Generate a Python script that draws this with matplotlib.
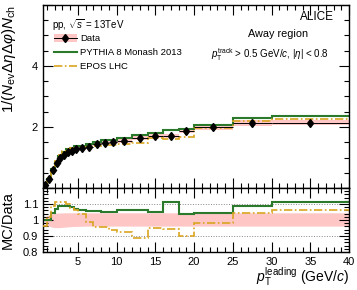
import numpy as np
import matplotlib.pyplot as plt
from matplotlib.patches import Patch
from matplotlib.lines import Line2D
from matplotlib.legend_handler import HandlerTuple
from matplotlib.ticker import MultipleLocator, FixedLocator

plt.rcParams['font.family'] = ['Liberation Sans', 'DejaVu Sans']
plt.rcParams['mathtext.fontset'] = 'custom'
plt.rcParams['mathtext.rm'] = 'Liberation Sans'
plt.rcParams['mathtext.it'] = 'Liberation Sans:italic'
plt.rcParams['mathtext.bf'] = 'Liberation Sans:bold'

# leading pT bins (GeV/c)
edges = np.array([0.5, 1, 1.5, 2, 2.5, 3, 3.5, 4, 4.5, 5, 6, 7, 8, 9, 10,
                  12, 14, 16, 18, 20, 25, 30, 40])
data = np.array([0.10, 0.30, 0.59, 0.81, 0.97, 1.08, 1.17, 1.22, 1.27, 1.30, 1.35,
                 1.43, 1.49, 1.51, 1.55, 1.64, 1.71, 1.70, 1.86, 1.99, 2.12, 2.14])
stat = np.array([0.01, 0.01, 0.01, 0.01, 0.01, 0.01, 0.01, 0.01, 0.01, 0.01, 0.01,
                 0.01, 0.02, 0.02, 0.02, 0.02, 0.03, 0.03, 0.03, 0.03, 0.04, 0.05])
# relative systematic band (upper / lower edge)
sys_hi = np.array([1.020, 1.032, 1.040, 1.043, 1.044, 1.045, 1.045, 1.045, 1.045, 1.045, 1.045,
                   1.045, 1.045, 1.045, 1.045, 1.045, 1.045, 1.045, 1.045, 1.045, 1.045, 1.045])
sys_lo = np.array([0.975, 0.962, 0.954, 0.952, 0.953, 0.955, 0.957, 0.959, 0.960, 0.961, 0.962,
                   0.962, 0.962, 0.962, 0.962, 0.962, 0.962, 0.962, 0.962, 0.962, 0.962, 0.962])
pythia = np.array([0.100, 0.300, 0.614, 0.867, 1.052, 1.177, 1.273, 1.318, 1.361, 1.385, 1.428,
                   1.512, 1.569, 1.590, 1.648, 1.743, 1.794, 1.887, 1.931, 2.078, 2.311, 2.375])
epos = np.array([0.096, 0.306, 0.643, 0.899, 1.082, 1.199, 1.287, 1.312, 1.353, 1.352, 1.337,
                 1.366, 1.423, 1.419, 1.435, 1.460, 1.626, 1.600, 1.672, 1.956, 2.209, 2.271])

centers = 0.5 * (edges[1:] + edges[:-1])
widths = np.diff(edges)

pink = '#ffc6c6'
green = '#2b7a2b'
gold = '#d9a520'
dashdot = (0, (5, 1.5, 1, 1.5))

fig = plt.figure(figsize=(3.57, 2.90), dpi=100)
ax1 = fig.add_axes([0.1204, 0.3517, 0.8572, 0.6311])
ax2 = fig.add_axes([0.1204, 0.131, 0.8572, 0.2207])

# upper panel
ax1.bar(centers, data * (sys_hi - sys_lo), bottom=data * sys_lo, width=widths,
        color=pink, lw=0, zorder=1)
ax1.stairs(pythia, edges, color=green, lw=1.5, baseline=None, zorder=2)
ax1.stairs(epos, edges, color=gold, lw=1.2, ls=dashdot, baseline=None, zorder=3)
ax1.errorbar(centers, data, xerr=widths / 2, yerr=stat, fmt='d', color='k',
             ms=4.5, lw=0.7, capsize=0, zorder=4)

ax1.set_xlim(0.5, 40)
ax1.set_ylim(0, 6)
ax1.yaxis.set_major_locator(FixedLocator([0, 2, 4, 6]))
ax1.set_yticklabels(['', '2', '4', ''])
ax1.yaxis.set_minor_locator(MultipleLocator(0.5))
ax1.set_ylabel(r'$1/(N_{\rm ev}\Delta\eta\Delta\varphi)N_{\rm ch}$', fontsize=11, loc='top')
ax1.yaxis.set_label_coords(-0.083, 1.0)
ax1.tick_params(labelbottom=False)

ax1.text(0.951, 0.936, 'ALICE', transform=ax1.transAxes, ha='right', va='center', fontsize=8.5)
ax1.text(0.767, 0.840, 'Away region', transform=ax1.transAxes, ha='center', va='center', fontsize=7.8)
ax1.text(0.741, 0.727, r'$p_{\rm T}^{\rm track}$ > 0.5 GeV/$c$, $|\eta|$ < 0.8',
         transform=ax1.transAxes, ha='center', va='center', fontsize=7)
ax1.text(0.0294, 0.89, r'pp, $\sqrt{s}$ = 13TeV', transform=ax1.transAxes,
         ha='left', va='center', fontsize=7)

h_data = (Patch(facecolor=pink, lw=0),
          Line2D([], [], color='k', marker='d', ms=4.5, lw=0.7))
h_py = Line2D([], [], color=green, lw=1.5)
h_ep = Line2D([], [], color=gold, lw=1.2, ls=dashdot)
ax1.legend([h_data, h_py, h_ep], ['Data', 'PYTHIA 8 Monash 2013', 'EPOS LHC'],
           handler_map={tuple: HandlerTuple(ndivide=1)},
           loc='upper left', bbox_to_anchor=(0.036, 0.84), frameon=False,
           fontsize=6.8, handlelength=2.4, handleheight=0.9, handletextpad=0.4,
           labelspacing=0.5, borderpad=0, borderaxespad=0)

# ratio panel
ax2.fill_between(np.r_[centers, edges[-1]], np.r_[sys_lo, sys_lo[-1]],
                 np.r_[sys_hi, sys_hi[-1]], color=pink, lw=0, zorder=1)
for lvl in [0.9, 1.1]:
    ax2.axhline(lvl, color='#888888', ls=':', lw=0.7, zorder=0)
ax2.stairs(pythia / data, edges, color=green, lw=1.5, baseline=None, zorder=2)
ax2.stairs(epos / data, edges, color=gold, lw=1.2, ls=dashdot, baseline=None, zorder=3)

ax2.set_xlim(0.5, 40)
ax2.set_ylim(0.8, 1.2)
ax2.yaxis.set_major_locator(FixedLocator([0.8, 0.9, 1.0, 1.1, 1.2]))
ax2.set_yticklabels(['0.8', '0.9', '1', '1.1', ''])
ax2.yaxis.set_minor_locator(MultipleLocator(0.02))
ax2.set_ylabel('MC/Data', fontsize=10.5)
ax2.yaxis.set_label_coords(-0.092, 0.5)
ax2.set_xlabel(r'$p_{\rm T}^{\rm leading}$ (GeV/$c$)', fontsize=10)
ax2.xaxis.set_label_coords(1.0, -0.22)
ax2.xaxis.label.set_ha('right')

for ax in (ax1, ax2):
    ax.xaxis.set_major_locator(MultipleLocator(5))
    ax.xaxis.set_minor_locator(MultipleLocator(1))
    ax.tick_params(which='both', direction='in', top=True, right=True, labelsize=8, width=0.8)
    ax.tick_params(which='major', length=7)
    ax.tick_params(which='minor', length=3.5)
    ax.tick_params(axis='x', pad=3.5)
    for s in ax.spines.values():
        s.set_linewidth(1.0)

fig.savefig('out.png', dpi=100)
